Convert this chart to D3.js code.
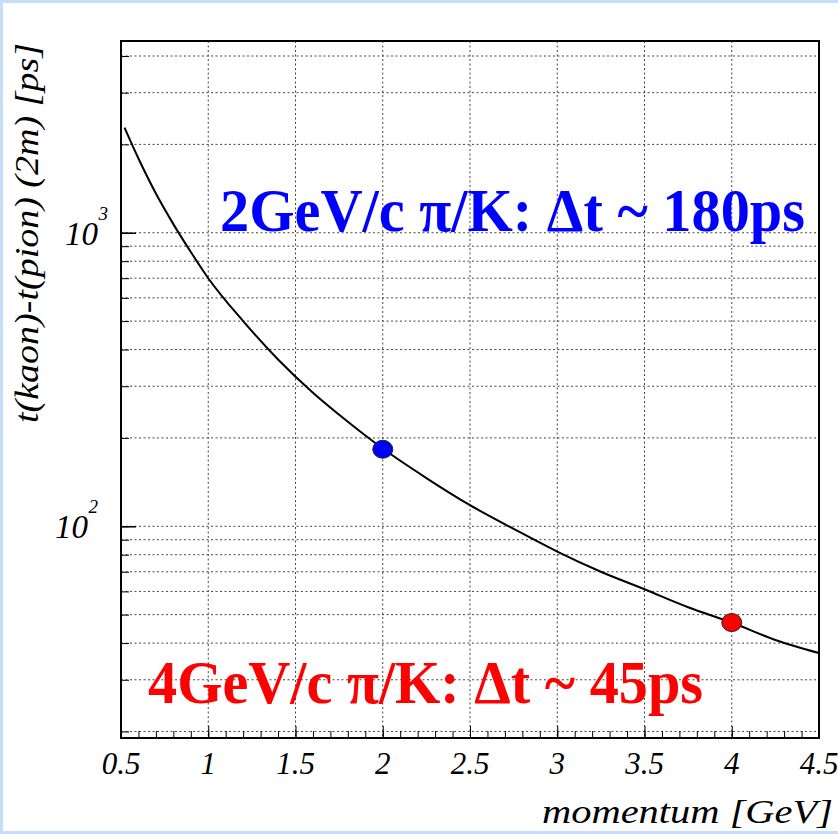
<!DOCTYPE html>
<html>
<head>
<meta charset="utf-8">
<script src="https://cdn.jsdelivr.net/npm/d3@7"></script>
<style>
    html, body { margin: 0; padding: 0; background: #fff; }
    svg { display: block; }
    text { font-family: "Liberation Serif", "Times New Roman", serif; }
</style>
</head>
<body>
<svg id="chart" width="838" height="834"></svg>
<script>
// === DATA ===

// momentum [GeV] and t(kaon)-t(pion) over 2 m [ps]
const momentum = [0.52, 0.6, 0.7, 0.8, 0.9, 1.0, 1.2, 1.4, 1.6, 1.8, 2.0,
                  2.25, 2.5, 2.75, 3.0, 3.25, 3.5, 3.75, 4.0, 4.25, 4.5];
const deltaT   = [2280, 1790, 1360, 1070, 860, 700, 500, 370, 285, 227, 184,
                  146, 118, 98, 82, 70, 61, 53, 47, 41, 37];

// highlighted points
const markerP     = [2, 4];
const markerT     = [183, 47];
const markerColor = ['#0000ff', '#ff0000'];

// annotations
const noteText  = ['2GeV/c \u03c0/K: \u0394t ~ 180ps', '4GeV/c \u03c0/K: \u0394t ~ 45ps'];
const noteColor = ['#0000ff', '#ff0000'];

// axis ticks
const xTicks      = [0.5, 1, 1.5, 2, 2.5, 3, 3.5, 4, 4.5];
const xTickLabels = ['0.5', '1', '1.5', '2', '2.5', '3', '3.5', '4', '4.5'];
const yDecades    = [2, 3];

const xDomain = [0.5, 4.5];
const yDomain = [19, 4500];

// === LAYOUT ===

const W = 838, H = 834;
const frame = { left: 121, right: 819, top: 41, bottom: 738 };

const svg = d3.select('#chart');

// slide background: thin light-blue border round a white panel
svg.append('rect').attr('width', W).attr('height', H).attr('fill', '#c4ddfb');
svg.append('rect').attr('x', 3).attr('y', 3).attr('width', W - 3).attr('height', 828).attr('fill', '#fff');

const x = d3.scaleLinear().domain(xDomain).range([frame.left, frame.right]);
const y = d3.scaleLog().domain(yDomain).range([frame.bottom, frame.top]);

// === GRID ===

const yGridVals = [];
for (let d = 1; d <= 3; d++) {
    for (let m = 1; m <= 9; m++) {
        const v = m * Math.pow(10, d);
        if (v > yDomain[0] && v < yDomain[1]) yGridVals.push(v);
    }
}

const grid = svg.append('g')
    .attr('stroke', '#444')
    .attr('stroke-width', 1)
    .attr('stroke-dasharray', '2,2.5');

grid.selectAll('.hgrid')
    .data(yGridVals)
    .join('line')
    .attr('x1', frame.left).attr('x2', frame.right)
    .attr('y1', d => y(d)).attr('y2', d => y(d));

grid.selectAll('.vgrid')
    .data(xTicks.slice(1, -1))
    .join('line')
    .attr('x1', d => x(d)).attr('x2', d => x(d))
    .attr('y1', frame.top).attr('y2', frame.bottom);

// === AXES (ticks drawn inside the frame) ===

const xMinor = d3.range(0.5, 4.5001, 0.1);
svg.append('g')
    .attr('transform', `translate(0,${frame.bottom})`)
    .call(d3.axisTop(x).tickValues(xMinor).tickSize(7).tickFormat(''))
    .call(g => g.select('.domain').remove())
    .selectAll('line').attr('stroke', '#000');

svg.append('g')
    .attr('transform', `translate(0,${frame.bottom})`)
    .call(d3.axisTop(x).tickValues(xTicks).tickSize(12).tickFormat(''))
    .call(g => g.select('.domain').remove())
    .selectAll('line').attr('stroke', '#000');

svg.append('g')
    .attr('transform', `translate(${frame.left},0)`)
    .call(d3.axisRight(y).tickValues(yGridVals).tickSize(8).tickFormat(''))
    .call(g => g.select('.domain').remove())
    .selectAll('line').attr('stroke', '#000');

svg.append('g')
    .attr('transform', `translate(${frame.left},0)`)
    .call(d3.axisRight(y).tickValues(yDecades.map(d => Math.pow(10, d))).tickSize(15).tickFormat(''))
    .call(g => g.select('.domain').remove())
    .selectAll('line').attr('stroke', '#000').attr('stroke-width', 1.5);

// frame
svg.append('rect')
    .attr('x', frame.left).attr('y', frame.top)
    .attr('width', frame.right - frame.left).attr('height', frame.bottom - frame.top)
    .attr('fill', 'none').attr('stroke', '#000').attr('stroke-width', 2);

// x tick labels
svg.append('g').selectAll('text')
    .data(xTicks)
    .join('text')
    .attr('x', d => x(d))
    .attr('y', frame.bottom + 36)
    .attr('text-anchor', 'middle')
    .attr('font-style', 'italic')
    .attr('font-size', 31)
    .text((d, i) => xTickLabels[i]);

// y tick labels 10^n
const yLabRight = { 2: 98, 3: 108 };
const yLab = svg.append('g').selectAll('g')
    .data(yDecades)
    .join('g');
yLab.append('text')
    .attr('x', d => yLabRight[d] - 10)
    .attr('y', d => y(Math.pow(10, d)) + 12)
    .attr('text-anchor', 'end')
    .attr('font-style', 'italic')
    .attr('font-size', 33)
    .text('10');
yLab.append('text')
    .attr('x', d => yLabRight[d])
    .attr('y', d => y(Math.pow(10, d)) - 13)
    .attr('text-anchor', 'end')
    .attr('font-style', 'italic')
    .attr('font-size', 19)
    .text(d => d);

// axis titles
svg.append('text')
    .attr('transform', 'translate(38,43) rotate(-90)')
    .attr('text-anchor', 'end')
    .attr('font-style', 'italic')
    .attr('font-size', 33)
    .attr('textLength', 380)
    .attr('lengthAdjust', 'spacingAndGlyphs')
    .text('t(kaon)-t(pion) (2m) [ps]');

svg.append('text')
    .attr('x', 833)
    .attr('y', 823)
    .attr('text-anchor', 'end')
    .attr('font-style', 'italic')
    .attr('font-size', 33)
    .attr('textLength', 291)
    .attr('lengthAdjust', 'spacingAndGlyphs')
    .text('momentum [GeV]');

// === CURVE ===

const line = d3.line()
    .x(d => x(d[0]))
    .y(d => y(d[1]))
    .curve(d3.curveMonotoneX);

svg.append('path')
    .datum(momentum.map((p, i) => [p, deltaT[i]]))
    .attr('d', line)
    .attr('fill', 'none')
    .attr('stroke', '#000')
    .attr('stroke-width', 2);

// === MARKERS ===

svg.append('g').selectAll('ellipse')
    .data(markerP)
    .join('ellipse')
    .attr('cx', d => x(d))
    .attr('cy', (d, i) => y(markerT[i]))
    .attr('rx', 10)
    .attr('ry', 9)
    .attr('fill', (d, i) => markerColor[i])
    .attr('stroke', '#222')
    .attr('stroke-width', 1);

// === ANNOTATIONS ===

const notePos = [{ x: 220, y: 231, w: 585 }, { x: 148, y: 703, w: 555 }];
svg.append('g').selectAll('text')
    .data(noteText)
    .join('text')
    .attr('x', (d, i) => notePos[i].x)
    .attr('y', (d, i) => notePos[i].y)
    .attr('font-weight', 'bold')
    .attr('font-size', 61)
    .attr('textLength', (d, i) => notePos[i].w)
    .attr('lengthAdjust', 'spacingAndGlyphs')
    .attr('fill', (d, i) => noteColor[i])
    .text(d => d);
</script>
</body>
</html>
